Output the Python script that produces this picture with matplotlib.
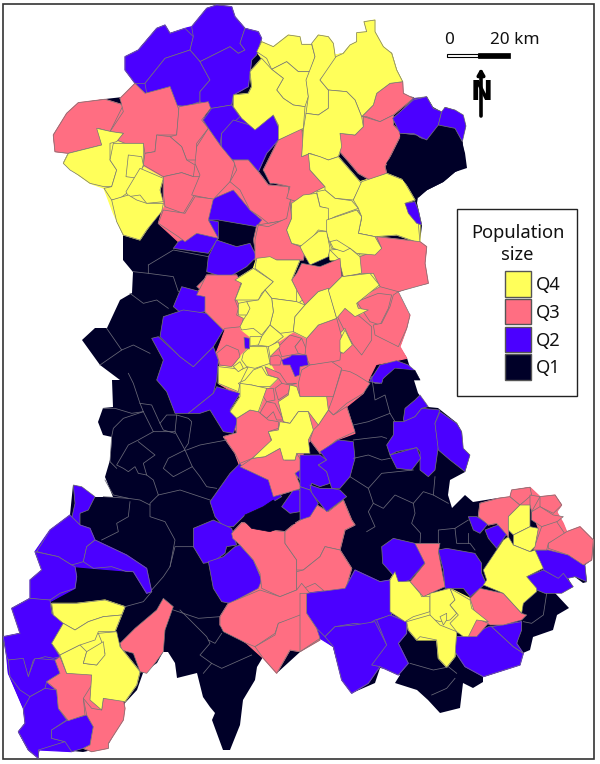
import matplotlib
matplotlib.use("Agg")
import matplotlib.pyplot as plt
from matplotlib.patches import Polygon, Rectangle

COLORS = {"Q4": "#FFFF5A", "Q3": "#FF6E82", "Q2": "#4B00FF", "Q1": "#000028"}
CLASSES = ["Q4", "Q3", "Q2", "Q1"]

# crop origins: vertices are stored in thirds of a pixel relative to these
NW = (0, 0); NE = (300, 0); SW = (0, 380); SE = (300, 380); CE = (190, 240); NO = (220, 10)

OUTLINE = [(217,5),(232,7),(235,17),(245,28),(258,32),(262,42),(273,47),(288,35),(298,37),(302,44),(312,44),(318,35),(328,37),(333,43),(335,55),(343,53),(350,45),(357,42),(357,33),(367,32),(364,22),(375,20),(375,32),(383,47),(392,53),(397,70),(403,82),(403,95),(413,97),(417,100),(427,97),(433,107),(442,112),(445,107),(455,110),(463,115),(466,126),(462,142),(465,153),(467,168),(455,172),(443,182),(427,190),(418,197),(417,203),(422,225),(420,242),(427,247),(425,263),(428,283),(412,287),(398,292),(397,303),(410,315),(407,328),(400,347),(407,358),(418,393),(428,407),(438,408),(457,423),(462,432),(463,448),(470,455),(465,472),(450,480),(448,495),(452,508),(465,495),(473,502),(498,498),(510,497),(512,490),(530,487),(540,497),(555,495),(562,505),(557,512),(563,523),(567,532),(580,527),(593,540),(592,560),(585,565),(587,582),(583,583),(575,577),(568,578),(573,587),(562,593),(555,593),(569,608),(557,615),(553,630),(533,637),(530,650),(523,653),(520,665),(483,677),(483,682),(473,688),(463,683),(460,708),(440,713),(428,700),(417,690),(395,683),(400,675),(393,670),(380,668),(375,683),(352,693),(342,680),(333,647),(320,637),(300,652),(277,673),(263,657),(257,667),(255,680),(243,700),(240,725),(230,750),(223,750),(212,720),(215,713),(210,707),(203,697),(197,673),(177,678),(175,663),(168,652),(163,652),(157,663),(143,673),(137,690),(125,703),(122,720),(107,747),(83,752),(40,748),(38,758),(28,750),(18,732),(25,723),(23,708),(8,673),(7,657),(3,637),(20,633),(12,608),(30,598),(30,580),(42,570),(35,552),(50,530),(70,515),(73,485),(82,487),(95,497),(113,497),(105,477),(110,460),(112,437),(103,435),(98,422),(103,408),(113,407),(112,380),(120,380),(100,365),(82,340),(95,328),(107,328),(120,300),(132,293),(133,272),(123,260),(123,235),(117,222),(112,200),(104,188),(90,183),(78,175),(63,163),(68,153),(55,152),(53,135),(67,113),(78,103),(105,99),(123,97),(135,83),(125,70),(128,58),(138,50),(157,28),(165,25),(170,33),(192,27),(207,8)]

# large same-class zones laid under the districts so no seam shows between them
ZONES = [
 ("Q3", CE, [(50,105),(140,105),(155,260),(190,265),(215,290),(310,275),(350,295),(385,255),(440,235),(465,210),(500,230),(570,190),(570,350),(540,410),(520,460),(470,500),(495,580),(440,600),(390,640),(360,600),(340,640),(320,720),(330,745),(250,770),(235,720),(150,680),(135,640),(100,590),(140,580),(130,540),(120,510),(150,500),(150,470),(85,430),(90,380),(78,340),(90,310),(105,270),(45,215),(45,170),(20,165)]),
 ("Q3", NE, [(225,710),(360,725),(380,740),(375,790),(385,850),(335,860),(295,875),(290,910),(330,945),(320,985),(300,1040),(320,1075),(275,1085),(220,1095),(150,1130),(100,1060),(130,830),(120,770),(180,770),(245,745)]),
 ("Q3", NO, [(425,320),(460,285),(470,250),(510,220),(548,215),(550,250),(580,265),(520,315),(520,345),(545,370),(495,470),(500,490),(450,510),(415,490),(390,460),(355,420),(360,370),(405,375),(430,350)]),
 ("Q3", NO, [(245,355),(250,400),(245,440),(270,480),(315,530),(285,545),(230,575),(215,580),(200,660),(215,700),(255,715),(250,750),(105,750),(105,690),(115,645),(145,650),(200,625),(200,565),(210,530),(165,520),(130,480),(175,390)]),
 ("Q3", NW, [(160,405),(200,340),(235,308),(315,298),(370,315),(360,295),(405,250),(435,280),(510,260),(530,315),(625,305),(610,360),(660,435),(665,465),(700,480),(745,480),(775,515),(805,555),(865,560),(875,620),(860,660),(805,670),(770,675),(750,630),(700,570),(630,600),(625,660),(590,700),(535,725),(475,670),(490,620),(490,535),(430,500),(430,430),(350,425),(370,400),(290,385),(305,435),(205,460),(165,455)]),
 ("Q2", NW, [(375,170),(415,150),(470,85),(495,75),(510,100),(555,85),(575,80),(620,25),(650,15),(695,20),(705,50),(735,85),(775,95),(785,115),(755,180),(745,260),(700,285),(695,315),(720,350),(765,380),(820,345),(835,380),(835,420),(800,460),(775,515),(745,480),(700,480),(665,465),(660,435),(610,360),(635,325),(600,305),(555,320),(530,315),(510,260),(440,280),(405,250),(375,210)]),
 ("Q4", NW, [(190,490),(205,460),(305,435),(290,385),(370,400),(350,425),(430,430),(430,500),(490,535),(480,570),(490,620),(440,690),(420,720),(370,705),(340,640),(312,565),(270,550),(235,525)]),
 ("Q4", NO, [(125,95),(160,110),(205,75),(240,80),(245,103),(275,103),(295,75),(325,80),(340,100),(345,135),(370,130),(390,105),(410,95),(410,68),(440,65),(432,35),(465,30),(465,65),(490,110),(515,130),(530,180),(548,215),(510,220),(470,250),(460,285),(425,320),(430,350),(405,375),(360,370),(365,410),(355,440),(420,515),(500,490),(550,510),(585,570),(555,580),(600,645),(600,700),(530,675),(465,680),(485,725),(445,735),(410,750),(330,750),(325,665),(255,710),(215,700),(200,660),(215,580),(290,545),(315,530),(270,480),(245,440),(250,355),(175,390),(175,345),(105,360),(40,290),(40,255),(85,250),(95,230),(90,185),(125,145),(110,125)]),
 ("Q4", CE, [(135,120),(190,85),(200,55),(240,50),(260,60),(330,60),(305,120),(320,150),(345,195),(385,155),(415,145),(455,110),(540,100),(568,135),(500,190),(505,205),(535,210),(495,230),(465,205),(440,235),(385,255),(350,295),(310,275),(265,305),(240,350),(240,370),(265,415),(240,440),(230,445),(205,515),(180,510),(140,535),(120,515),(150,470),(145,455),(85,430),(85,380),(130,380),(155,345),(180,320),(180,290),(155,270),(150,260),(160,240),(145,225),(145,190),(135,180),(155,130)]),
 ("Q2", SW, [(35,685),(90,655),(90,600),(125,570),(105,515),(150,450),(210,405),(240,435),(270,445),(285,480),(380,525),(440,565),(455,635),(440,640),(400,575),(280,565),(225,560),(230,590),(225,625),(150,665),(155,700),(190,730),(155,790),(180,830),(180,880),(140,905),(170,930),(175,985),(205,1022),(260,1005),(280,1040),(270,1095),(215,1115),(115,1110),(115,1135),(85,1110),(55,1055),(75,1030),(70,985),(25,880),(20,830),(10,770),(60,760)]),
 ("Q4", SW, [(155,670),(230,670),(315,660),(375,680),(345,755),(360,800),(420,875),(410,915),(375,965),(310,955),(305,990),(270,960),(275,885),(200,880),(180,825),(155,790),(190,730),(160,705)]),
 ("Q3", SW, [(140,905),(180,880),(165,840),(200,880),(275,885),(270,960),(305,990),(310,955),(370,960),(375,985),(370,1020),(325,1090),(325,1105),(275,1115),(250,1105),(270,1095),(280,1040),(260,1005),(205,1022),(175,985),(170,930)]),
 ("Q3", SW, [(695,460),(725,428),(750,430),(755,445),(855,455),(885,430),(935,400),(950,375),(985,395),(1030,360),(1055,420),(1065,435),(1035,450),(1020,510),(1055,565),(1035,635),(975,635),(945,640),(960,780),(900,815),(870,810),(830,880),(790,835),(740,790),(660,735),(660,710),(685,670),(775,625),(785,600),(720,495)]),
 ("Q2", SE, [(20,640),(135,625),(165,570),(240,605),(270,600),(275,705),(320,725),(320,760),(295,790),(325,850),(295,885),(240,860),(205,910),(155,940),(125,900),(100,800),(60,775),(20,700)]),
 ("Q2", SE, [(465,815),(470,770),(505,770),(575,740),(665,725),(650,790),(670,820),(660,855),(550,890),(495,860)]),
 ("Q4", SE, [(270,600),(285,575),(295,605),(330,605),(370,650),(450,625),(510,655),(565,725),(530,720),(505,770),(470,755),(465,830),(440,862),(415,835),(410,780),(350,780),(325,750),(320,725),(270,695)]),
 ("Q3", SE, [(540,370),(595,355),(630,350),(635,330),(690,322),(720,350),(765,345),(785,375),(770,395),(790,430),(800,455),(840,440),(880,480),(875,540),(850,555),(805,525),(705,510),(715,445),(690,375),(660,375),(625,410),(625,470),(590,430),(565,435),(535,410)]),
]

Q2_NW = [
 [(375,170),(415,150),(470,85),(495,75),(510,100),(555,85),(580,110),(570,150),(495,175),(435,250),(405,250),(375,210)],
 [(575,80),(620,25),(650,15),(695,20),(705,50),(735,85),(720,130),(735,150),(715,160),(690,140),(600,185),(570,150),(580,110)],
 [(495,175),(570,150),(600,185),(630,240),(600,275),(600,305),(555,320),(530,315),(510,260),(440,280),(435,250)],
 [(600,185),(690,140),(715,160),(735,150),(720,130),(735,85),(775,95),(785,115),(770,165),(755,180),(745,260),(700,285),(695,315),(635,325),(600,305),(600,275),(630,240)],
 [(610,360),(635,325),(695,315),(720,350),(665,400),(660,435),(625,385)],
 [(665,400),(700,360),(765,380),(820,345),(835,380),(835,420),(800,460),(775,515),(745,480),(700,480),(665,465)],
 [(630,600),(700,570),(750,630),(785,660),(770,680),(655,660),(625,660)],
 [(535,725),(590,700),(625,660),(655,665),(655,715),(625,760),(520,745)],
 [(625,770),(650,720),(710,740),(750,730),(770,770),(740,800),(680,835),(620,815)],
 [(520,920),(545,860),(620,880),(615,935),(550,945)],
 [(455,1015),(475,1010),(540,1070),(580,1100),(640,1040),(655,1080),(650,1140),(640,1180),(565,1240),(525,1240),(500,1175),(470,1140),(490,1080)],
 [(480,1010),(490,950),(550,930),(620,940),(670,990),(640,1040),(580,1100),(540,1070)],
 [(565,1240),(640,1180),(650,1160),(720,1180),(690,1230),(715,1255),(700,1300),(670,1295),(630,1230),(600,1240)],
]
Q3_NW = [
 [(160,405),(200,340),(235,308),(315,298),(370,315),(330,395),(295,385),(305,435),(205,460),(165,455)],
 [(360,295),(405,250),(435,280),(510,260),(537,330),(530,405),(470,405),(465,455),(435,460),(430,430),(375,430),(350,420),(370,400),(330,395),(370,335)],
 [(537,320),(625,305),(632,325),(605,360),(625,385),(590,430),(590,480),(560,480),(545,440),(510,410),(530,405)],
 [(435,460),(465,455),(470,405),(510,410),(545,440),(560,480),(585,495),(580,530),(545,518),(490,530),(430,495)],
 [(490,530),(545,518),(580,530),(600,530),(580,590),(550,640),(495,620),(490,580)],
 [(625,385),(660,435),(705,490),(690,545),(640,598),(575,585),(600,525),(585,490),(590,440)],
 [(490,630),(555,640),(585,590),(640,597),(625,660),(655,715),(590,700),(555,725),(535,710),(475,670)],
 [(700,480),(745,480),(775,515),(805,555),(865,560),(875,620),(860,660),(805,670),(780,650),(750,630),(720,570),(690,545),(710,510)],
 [(770,675),(805,670),(860,660),(860,745),(900,745),(900,775),(770,775),(760,720)],
 [(590,860),(625,825),(720,840),(700,880),(720,920),(670,975),(625,940),(620,885)],
]
Q4_NW = [
 [(190,490),(205,460),(305,435),(290,385),(335,395),(370,400),(350,425),(330,430),(330,480),(350,510),(335,560),(312,560),(270,550),(235,525),(210,510)],
 [(340,430),(375,430),(430,430),(430,500),(420,510),(380,580),(360,595),(335,600),(312,565),(335,560),(350,510),(330,480)],
 [(385,465),(425,470),(430,495),(415,535),(378,530)],
 [(420,505),(490,535),(480,570),(490,605),(440,610),(420,585),(385,590),(378,575)],
 [(335,600),(385,585),(410,600),(440,610),(490,610),(485,635),(440,690),(420,720),(370,705),(350,665)],
]
Q1_NW = [
 [(655,660),(700,660),(770,680),(760,720),(770,760),(750,730),(715,740),(680,725),(660,700)],
]
Q2_SW = [
 [(630,365),(690,280),(720,250),(730,265),(800,290),(845,350),(820,365),(790,380),(735,405),(700,440),(670,440),(645,410)],
 [(580,445),(640,420),(695,445),(710,495),(680,500),(675,520),(640,545),(610,550),(580,500)],
 [(625,545),(670,530),(705,500),(720,495),(760,540),(785,600),(775,625),(690,670),(665,665),(640,625)],
 [(220,315),(245,320),(285,350),(265,390),(240,400),(240,435),(215,415),(225,370)],
 [(110,515),(150,450),(210,405),(240,435),(270,445),(285,480),(260,500),(250,545),(215,555),(175,530)],
 [(250,545),(260,500),(285,480),(380,525),(440,565),(455,635),(440,640),(400,575),(380,575),(335,560),(280,565)],
 [(90,655),(90,600),(125,570),(105,515),(175,530),(215,555),(225,560),(230,590),(225,625),(180,640),(150,660),(135,660)],
 [(35,685),(90,655),(150,660),(155,700),(190,730),(155,790),(180,830),(160,835),(135,830),(100,840),(85,890),(70,840),(25,840),(20,830),(10,770),(60,760)],
 [(25,840),(70,835),(85,890),(105,835),(165,840),(180,880),(140,905),(135,925),(90,950),(60,930),(30,890)],
 [(70,985),(90,950),(135,925),(170,930),(175,985),(200,1020),(155,1050),(155,1075),(195,1085),(115,1110),(115,1135),(85,1110),(55,1055),(75,1030)],
 [(155,1050),(200,1022),(260,1005),(280,1040),(270,1095),(250,1105),(215,1115),(195,1085),(155,1075)],
 [(845,380),(880,330),(900,330),(900,395),(870,400)],
 [(885,280),(900,265),(900,300)],
]
Q1_SW = [
 [(735,405),(790,380),(820,360),(850,395),(885,430),(850,440),(810,455),(755,445),(735,425)],
]
Q3_SW = [
 [(140,905),(180,880),(165,840),(180,830),(200,880),(280,880),(275,915),(250,955),(255,1005),(205,1022),(175,985),(170,930)],
 [(250,955),(275,985),(305,990),(310,955),(370,960),(375,985),(370,1020),(325,1090),(325,1105),(275,1115),(250,1105),(270,1095),(280,1040),(260,1005)],
 [(360,790),(405,745),(470,690),(490,655),(520,680),(495,750),(490,815),(465,850),(440,880),(420,875),(400,820),(365,810)],
 [(695,460),(725,428),(750,430),(755,445),(855,455),(855,490),(890,540),(890,630),(840,650),(785,625),(780,580),(760,540),(720,495),(698,475)],
 [(855,455),(885,430),(935,400),(950,375),(985,395),(1030,360),(1055,420),(1065,435),(1035,450),(1020,510),(975,500),(960,530),(910,570),(890,570),(890,540),(855,490)],
 [(890,630),(890,575),(910,570),(960,530),(975,500),(1020,510),(1055,565),(1035,635),(975,635),(945,610),(900,630)],
 [(660,710),(685,670),(780,630),(840,650),(890,630),(905,610),(930,640),(900,710),(835,730),(825,760),(765,800),(740,790),(670,755),(660,735)],
 [(765,800),(825,765),(835,730),(900,705),(920,720),(960,780),(900,815),(870,810),(830,880),(790,835)],
]
Q4_SW = [
 [(155,670),(230,670),(315,660),(375,680),(365,705),(310,710),(265,725),(225,750),(190,730),(160,705)],
 [(190,730),(225,750),(265,725),(310,710),(365,705),(345,755),(295,755),(285,780),(240,795),(180,825),(155,790)],
 [(180,825),(240,795),(260,815),(250,850),(290,855),(315,820),(305,785),(295,760),(350,755),(360,800),(420,875),(410,915),(375,965),(310,955),(305,990),(270,960),(275,885),(200,880)],
 [(260,815),(310,785),(315,825),(290,855),(250,850)],
]
Q4_NO = [
 [(125,95),(160,110),(205,75),(240,80),(245,103),(275,103),(285,140),(270,185),(235,185),(200,155),(155,178),(140,145),(110,125)],
 [(155,178),(200,155),(235,185),(270,185),(260,210),(265,260),(255,290),(220,285),(190,265),(170,240),(190,205)],
 [(125,145),(155,178),(190,205),(170,240),(190,265),(220,285),(255,290),(250,355),(175,390),(175,345),(160,315),(105,360),(65,325),(40,290),(40,255),(85,250),(95,230),(90,185)],
 [(275,100),(295,75),(325,80),(340,100),(348,155),(300,210),(325,240),(325,295),(295,315),(258,310),(265,260),(258,210),(285,140)],
 [(348,140),(370,130),(390,105),(410,95),(410,68),(440,65),(432,35),(465,30),(465,65),(490,110),(515,130),(530,180),(548,215),(510,220),(470,250),(460,285),(425,320),(405,270),(380,245),(325,240),(300,210)],
 [(258,310),(295,315),(325,295),(325,240),(380,245),(405,270),(425,320),(430,350),(405,375),(360,370),(365,410),(355,440),(325,450),(270,430),(245,440),(250,360)],
 [(265,430),(300,440),(325,450),(355,440),(420,515),(425,520),(400,570),(345,565),(315,540),(315,530),(270,480)],
 [(400,570),(425,515),(500,490),(550,510),(585,570),(555,580),(595,640),(600,700),(530,675),(465,680),(415,670),(425,620),(415,595)],
 [(290,545),(315,540),(345,565),(395,572),(415,595),(345,620),(325,630),(320,595),(300,590)],
 [(330,630),(415,600),(425,625),(415,670),(465,680),(485,725),(445,735),(420,735),(385,700),(330,680),(320,650)],
 [(215,580),(250,555),(290,550),(300,590),(325,595),(325,665),(295,660),(255,710),(215,700),(200,660),(215,625)],
]
Q3_NO = [
 [(245,355),(250,400),(245,440),(270,430),(270,480),(315,530),(285,545),(230,575),(200,565),(210,530),(165,520),(150,520),(130,480),(175,390)],
 [(425,320),(460,285),(470,250),(510,220),(548,215),(550,250),(580,265),(520,315),(480,335),(440,320)],
 [(360,370),(405,375),(430,350),(430,320),(480,335),(520,315),(520,345),(545,370),(495,470),(500,490),(450,510),(415,490),(390,460),(355,420)],
 [(115,645),(145,650),(200,625),(210,575),(215,625),(200,660),(215,700),(255,715),(250,750),(105,750),(105,690)],
]
Q2_NO = [
 [(555,580),(585,575),(595,600),(605,645),(590,640),(565,610)],
 [(520,330),(580,265),(620,260),(640,295),(660,310),(660,340),(610,390),(590,375),(545,370)],
]
Q1_NE = [
 [(260,490),(305,430),(300,400),(375,420),(415,375),(465,385),(487,425),(495,500),(465,515),(430,545),(380,570),(355,592),(310,540),(300,515)],
]
Q2_NE = [
 [(278,355),(340,300),(380,290),(400,325),(425,335),(415,375),(380,420),(340,400),(300,400)],
 [(425,335),(435,322),(465,330),(490,345),(498,378),(487,425),(465,385),(415,375)],
]
Q3_NE = [
 [(230,710),(360,725),(380,740),(375,790),(385,850),(295,875),(240,860),(215,820),(130,830),(120,770),(180,770),(245,745)],
 [(170,905),(235,880),(275,885),(265,925),(240,975),(210,965)],
 [(295,875),(330,945),(320,985),(295,1040),(225,1005),(220,975),(245,970),(270,920),(280,885)],
 [(105,935),(135,925),(180,950),(215,980),(215,1020),(185,1065),(160,1035),(130,985)],
]
Q4_NE = [
 [(80,660),(170,630),(185,650),(175,700),(225,710),(245,745),(225,765),(170,760),(150,745),(130,755),(95,745),(80,700)],
 [(90,750),(150,745),(180,770),(185,820),(130,830),(115,775)],
 [(90,725),(110,720),(150,745),(130,755),(100,745)],
 [(0,740),(55,695),(80,695),(90,745),(85,770),(30,795),(10,760)],
 [(90,870),(120,860),(180,820),(220,820),(240,860),(205,880),(170,910),(180,945),(135,925),(105,935),(90,910)],
 [(0,905),(70,865),(90,870),(90,910),(105,935),(75,1000),(30,1015),(0,985)],
 [(120,1000),(135,985),(155,1030),(125,1060)],
]
Q3_CE = [
 [(50,105),(140,105),(155,125),(135,180),(145,205),(140,225),(160,235),(155,260),(105,265),(100,270),(45,215),(45,170),(20,165)],
 [(320,100),(335,70),(390,80),(450,55),(455,110),(420,145),(385,155),(345,195),(320,150),(305,120)],
 [(80,340),(110,315),(145,330),(150,350),(125,380),(90,375)],
 [(240,350),(265,345),(275,355),(270,375),(240,375)],
 [(265,320),(300,285),(335,295),(315,320),(330,340),(275,350)],
 [(315,320),(335,295),(350,330),(345,345),(325,340)],
 [(345,345),(350,295),(385,255),(440,235),(455,290),(450,360),(410,370),(360,375)],
 [(325,430),(335,390),(360,375),(425,365),(455,385),(430,470),(410,470),(330,470)],
 [(415,510),(430,470),(455,390),(480,395),(500,405),(540,430),(520,460),(470,490),(430,525)],
 [(225,380),(270,400),(290,430),(320,430),(300,435),(280,435),(265,415),(235,405)],
 [(225,445),(250,445),(255,480),(230,485),(220,470)],
 [(255,445),(275,430),(300,435),(295,460),(265,480)],
 [(215,510),(230,485),(255,490),(280,540),(260,540),(250,515),(230,535),(210,520)],
 [(140,535),(180,510),(205,515),(235,540),(265,545),(265,565),(235,575),(245,605),(187,655),(150,670),(135,640),(100,590),(140,578)],
 [(150,680),(187,655),(225,650),(270,625),(285,660),(315,660),(320,640),(345,680),(315,700),(335,745),(250,770),(235,720)],
 [(360,600),(370,570),(385,555),(415,510),(430,525),(470,500),(495,575),(440,600),(390,640)],
]
Q4_CE = [
 [(135,120),(190,85),(250,125),(215,160),(205,180),(135,180),(155,130)],
 [(195,85),(200,55),(240,50),(260,60),(330,60),(305,120),(320,150),(320,185),(245,175),(225,150),(250,125)],
 [(245,175),(320,185),(345,195),(315,230),(310,275),(270,280),(240,255),(250,215)],
 [(170,185),(205,180),(225,150),(245,175),(250,215),(240,255),(215,285),(190,265),(155,270),(150,260),(160,240),(175,215)],
 [(145,190),(170,185),(180,205),(170,225),(145,225)],
 [(345,195),(385,155),(415,145),(440,235),(385,255),(350,295),(310,275),(315,230)],
 [(415,150),(455,110),(540,100),(568,135),(500,190),(505,205),(535,210),(495,230),(465,205),(440,235)],
 [(85,380),(130,385),(150,390),(175,380),(150,430),(145,455),(85,430)],
 [(160,340),(180,320),(230,320),(240,370),(195,385),(170,380),(155,360)],
 [(130,380),(150,365),(160,385),(145,395)],
 [(215,290),(240,255),(270,280),(280,290),(240,320),(200,315)],
 [(180,290),(215,290),(205,315),(180,318)],
 [(235,320),(265,305),(270,320),(240,350)],
 [(145,430),(165,420),(190,390),(215,380),(230,405),(265,415),(240,440),(205,440),(185,435),(150,435)],
 [(150,430),(185,435),(230,445),(205,515),(180,510),(140,535),(120,515),(150,470)],
 [(265,485),(295,465),(300,435),(320,440),(330,470),(410,470),(415,510),(385,555),(355,515),(325,515),(300,550),(280,545)],
 [(187,655),(245,600),(235,575),(265,570),(270,545),(300,550),(325,515),(355,515),(370,570),(355,600),(360,640),(320,640),(315,660),(280,660),(270,625),(225,650)],
 [(450,300),(465,270),(487,315),(460,340),(450,335)],
]
Q2_CE = [
 [(162,292),(178,295),(178,327),(165,325)],
 [(275,360),(300,350),(305,345),(350,345),(355,375),(330,380),(328,405),(315,410),(300,375),(280,375)],
 [(540,415),(570,390),(570,430),(555,430)],
]
Q2_SE = [
 [(310,120),(315,85),(345,60),(360,45),(385,80),(365,85),(345,110),(315,125)],
 [(280,125),(310,125),(345,110),(365,85),(420,90),(405,130),(415,200),(405,270),(385,290),(360,270),(360,215),(350,203),(290,215),(270,225),(260,195),(280,165)],
 [(405,130),(420,95),(470,130),(485,155),(490,205),(510,225),(495,275),(450,240),(415,210)],
 [(270,225),(350,203),(362,235),(335,270),(290,265)],
 [(0,225),(60,225),(80,240),(55,255),(80,275),(90,310),(60,320),(35,310),(30,330),(0,320)],
 [(60,215),(115,180),(160,185),(165,235),(150,290),(120,325),(95,325),(80,275),(55,255),(80,240)],
 [(30,315),(60,325),(95,325),(120,330),(140,350),(80,395),(60,370),(35,340)],
 [(0,320),(30,330),(55,370),(30,410),(0,420)],
 [(505,410),(530,410),(565,430),(540,460),(520,450)],
 [(555,450),(580,440),(610,430),(625,455),(590,505),(565,475)],
 [(705,510),(745,510),(805,525),(855,555),(860,605),(825,590),(805,595),(780,600),(730,570)],
 [(680,590),(730,570),(775,595),(790,580),(820,620),(785,640),(735,640),(710,630)],
 [(415,510),(440,505),(525,520),(545,550),(545,580),(558,610),(510,650),(490,625),(435,625),(430,570)],
 [(245,500),(280,475),(345,490),(378,545),(330,600),(300,610),(270,575),(248,550)],
 [(20,640),(135,625),(165,570),(240,605),(270,600),(275,705),(225,720),(200,735),(165,730),(105,740),(75,770),(50,745),(20,700)],
 [(75,770),(105,740),(165,735),(225,725),(260,795),(240,860),(205,910),(155,940),(125,900),(100,800)],
 [(230,720),(270,705),(320,725),(320,760),(295,790),(325,850),(295,885),(240,860),(215,855),(260,795)],
 [(465,815),(470,770),(505,770),(565,740),(575,740),(640,800),(670,820),(660,855),(550,890),(495,860)],
 [(575,740),(665,725),(665,750),(650,790),(670,820),(640,800)],
]
Q2_CAP = [
 [(208,1145),(240,1095),(290,1082),(325,1095),(345,1112),(285,1105),(250,1135),(245,1150)],
]
Q1_CAP = [
 [(250,1140),(285,1107),(345,1112),(360,1140)],
]
Q3_SE = [
 [(540,370),(595,355),(630,350),(660,375),(625,410),(625,470),(590,430),(565,435),(535,410)],
 [(630,350),(635,330),(690,322),(695,345),(660,375)],
 [(690,345),(720,350),(695,395),(690,375)],
 [(720,350),(765,345),(785,375),(760,400),(720,380)],
 [(695,395),(720,380),(760,405),(790,410),(765,430),(725,440),(695,420)],
 [(700,510),(725,440),(770,425),(797,465),(745,490),(740,510)],
 [(745,490),(800,455),(840,440),(880,480),(875,540),(850,555),(805,525),(745,505)],
 [(510,655),(540,625),(610,640),(665,700),(680,705),(665,720),(610,735),(570,735),(530,715)],
 [(500,745),(530,715),(565,730),(530,770),(505,770)],
 [(350,490),(420,490),(415,515),(435,620),(370,650),(330,605),(375,550),(345,490)],
 [(0,640),(20,640),(20,700),(50,745),(60,775),(0,815)],
]
Q4_SE = [
 [(625,410),(660,375),(690,375),(690,440),(640,465),(625,450)],
 [(640,465),(690,440),(715,445),(705,500),(690,515),(640,495)],
 [(550,570),(610,480),(625,470),(640,495),(690,515),(705,510),(730,565),(680,590),(710,625),(710,635),(670,670),(665,700),(610,640),(550,615),(560,600)],
 [(270,600),(285,575),(295,605),(330,605),(360,640),(365,650),(390,650),(390,695),(340,710),(315,725),(270,695)],
 [(390,640),(450,625),(465,660),(450,675),(470,700),(450,720),(420,725),(390,715)],
 [(450,625),(510,660),(515,685),(565,725),(530,720),(505,770),(490,770),(470,755),(450,730),(475,705),(450,675),(465,660)],
 [(320,725),(390,705),(420,735),(470,755),(465,830),(440,862),(415,835),(410,780),(360,770),(350,780),(325,750)],
 [(420,710),(440,700),(440,720),(430,735)],
]

# district borders inside the Q1 zones
Q1_BORDERS_NW = [
 [(445,795),(520,750),(625,770)], [(445,795),(445,820),(400,815)], [(445,820),(520,830),(535,875)],
 [(390,880),(430,910),(470,900),(505,925)], [(320,985),(365,1050),(400,1035),(450,1060)], [(300,1095),(365,1050)],
]
Q1_BORDERS_SW = [
 [(310,85),(345,85),(395,100),(430,95),(420,70),(400,10),(385,-20)],
 [(430,95),(370,115),(340,145),(335,170),(330,245)],
 [(430,95),(460,155),(415,180),(385,195),(350,255),(370,265),(385,275),(405,260),(415,280),(440,285),(430,250),(465,225),(415,185)],
 [(460,155),(525,155),(555,210),(505,235),(490,265),(520,290),(577,260),(555,210)],
 [(420,70),(455,75),(480,130),(500,105),(530,105),(525,155)], [(480,130),(490,150),(525,160)],
 [(530,105),(565,115),(575,125),(565,190),(555,205)], [(560,210),(600,195),(680,180)],
 [(577,260),(600,290),(620,320),(650,325)],
 [(330,245),(350,265)], [(440,285),(460,300),(475,345),(540,330),(600,350),(630,360)],
 [(475,345),(450,370),(450,410),(495,425),(525,480),(510,560),(490,590),(455,630)],
 [(310,350),(385,355),(420,360),(450,375)], [(390,365),(385,410),(350,430),(355,455),(305,480)],
 [(315,300),(340,345),(385,355)], [(510,560),(525,500),(550,500),(580,500)],
 [(520,690),(595,715),(660,710)], [(540,690),(620,770),(630,790),(600,825),(635,850),(610,880)],
 [(625,780),(645,790),(665,760)], [(635,850),(665,865),(755,825)], [(455,635),(430,665),(375,680)],
]
Q1_BORDERS_SE = [
 [(160,135),(205,125),(270,100),(285,125)], [(215,-10),(225,60),(255,45),(270,100)],
 [(160,180),(200,175),(245,170),(260,175)], [(160,235),(205,225),(245,240),(270,235)],
 [(150,290),(205,325),(245,280),(340,270)], [(205,325),(220,370),(205,395),(225,440),(200,455)],
 [(220,370),(250,385),(285,345),(340,370),(345,400),(335,430),(362,460),(360,490)],
 [(340,370),(370,335),(400,345),(405,290)], [(400,345),(445,370)],
 [(415,490),(415,450),(465,445),(470,490),(510,490),(525,510)], [(465,445),(505,420)], [(505,460),(505,490)],
 [(670,725),(695,730),(730,705),(740,640)],
 [(330,850),(400,870),(440,862)], [(395,945),(440,925),(465,895)], [(445,860),(470,880)],
]

LAYERS = [
 (Q1_NW, "Q1", NW), (Q2_SW, "Q2", SW), (Q3_SW, "Q3", SW), (Q4_SW, "Q4", SW), (Q1_SW, "Q1", SW),
 (Q2_NW, "Q2", NW), (Q3_NW, "Q3", NW), (Q4_NW, "Q4", NW),
 (Q3_NO, "Q3", NO), (Q4_NO, "Q4", NO), (Q2_NO, "Q2", NO),
 (Q1_NE, "Q1", NE), (Q2_NE, "Q2", NE), (Q3_NE, "Q3", NE), (Q4_NE, "Q4", NE),
 (Q3_CE, "Q3", CE), (Q4_CE, "Q4", CE), (Q2_CE, "Q2", CE),
 (Q2_SE, "Q2", SE), (Q3_SE, "Q3", SE), (Q4_SE, "Q4", SE),
 (Q2_CAP, "Q2", NE), (Q1_CAP, "Q1", NE),
]

plt.rcParams["font.family"] = ["Noto Sans", "DejaVu Sans"]
fig = plt.figure(figsize=(6, 7.64), dpi=100)
ax = fig.add_axes([0, 0, 1, 1])
ax.set_xlim(0, 600); ax.set_ylim(764, 0); ax.axis("off")

ax.add_patch(Rectangle((3, 4), 591, 755, fc="white", ec="#333333", lw=1.2, zorder=0))
ax.add_patch(Polygon(OUTLINE, closed=True, fc=COLORS["Q1"], ec="none", zorder=1))

def px(points, origin):
    return [(origin[0] + x / 3, origin[1] + y / 3) for x, y in points]

z = 2
for cls, origin, pts in ZONES:
    ax.add_patch(Polygon(px(pts, origin), closed=True, fc=COLORS[cls], ec=COLORS[cls], lw=0.8, zorder=z))
    z += 1
for shapes, cls, origin in LAYERS:
    for pts in shapes:
        edge = COLORS["Q1"] if cls == "Q1" else "#767676"
        ax.add_patch(Polygon(px(pts, origin), closed=True, fc=COLORS[cls], ec=edge, lw=0.5, zorder=z, joinstyle="round"))
    z += 1
for lines, origin in [(Q1_BORDERS_NW, NW), (Q1_BORDERS_SW, SW), (Q1_BORDERS_SE, SE)]:
    for pts in lines:
        xy = px(pts, origin)
        ax.plot([p[0] for p in xy], [p[1] for p in xy], color="#6A6A78", lw=0.55, zorder=z)
z += 1

# legend
ax.add_patch(Rectangle((457, 209), 120, 187, fc="white", ec="#222222", lw=1.0, zorder=z))
ax.text(518, 233, "Population", ha="center", va="center", fontsize=13.2, color="#111111", zorder=z + 1)
ax.text(517, 255, "size", ha="center", va="center", fontsize=13.2, color="#111111", zorder=z + 1)
for i, cls in enumerate(CLASSES):
    y = 271 + i * 27.8
    ax.add_patch(Rectangle((504.5, y), 26, 25.5, fc=COLORS[cls], ec="#555555", lw=1.0, zorder=z + 1))
    ax.text(536, y + 14, cls, ha="left", va="center", fontsize=13.2, color="#111111", zorder=z + 1)

# scale bar and north arrow
ax.add_patch(Rectangle((447, 53.5), 31, 3.5, fc="white", ec="black", lw=0.8, zorder=z))
ax.add_patch(Rectangle((478, 53), 32, 4.5, fc="black", ec="black", lw=0.5, zorder=z))
ax.text(449, 40, "0", ha="center", va="center", fontsize=12.3, color="#111111", zorder=z)
ax.text(514.5, 40, "20 km", ha="center", va="center", fontsize=12.3, color="#111111", zorder=z)
ax.text(481.5, 93.5, "N", ha="center", va="center", fontsize=19, fontweight="bold", family="DejaVu Sans", color="black", zorder=z)
ax.annotate("", xy=(481, 68), xytext=(481, 116), arrowprops=dict(arrowstyle="-|>,head_width=0.2,head_length=0.35", lw=2.6, color="black", shrinkA=0, shrinkB=0), zorder=z + 1)

fig.savefig("out.png", dpi=100)
